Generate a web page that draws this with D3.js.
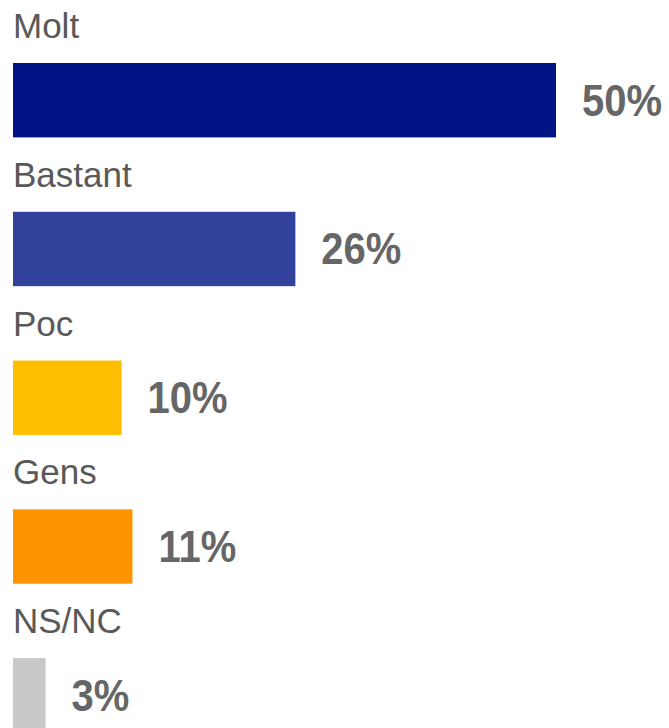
<!DOCTYPE html>
<html>
<head>
<meta charset="utf-8">
<script src="https://cdn.jsdelivr.net/npm/d3@7"></script>
<style>
  html, body { margin: 0; padding: 0; background: #fff; }
  svg { display: block; }
</style>
</head>
<body>
<svg id="chart" width="669" height="728"></svg>
<script>
const categories = ["Molt", "Bastant", "Poc", "Gens", "NS/NC"];
const values = [50, 26, 10, 11, 3];
const valueLabels = ["50%", "26%", "10%", "11%", "3%"];
const colors = ["#001486", "#32419B", "#FFBF00", "#FF9300", "#C8C8C8"];

const svg = d3.select("#chart");
const data = categories.map((c, i) => ({ cat: c, v: values[i], label: valueLabels[i], color: colors[i] }));

const x = d3.scaleLinear().domain([0, 50]).range([13, 556]);
const y = d3.scaleBand().domain(categories).range([63, 732.5]).paddingInner(0.5).paddingOuter(0);

const g = svg.append("g");

g.selectAll("rect.bar").data(data).join("rect")
  .attr("class", "bar")
  .attr("x", x(0))
  .attr("y", d => y(d.cat))
  .attr("width", d => x(d.v) - x(0))
  .attr("height", y.bandwidth())
  .attr("fill", d => d.color);

g.selectAll("text.cat").data(data).join("text")
  .attr("class", "cat")
  .attr("x", x(0))
  .attr("y", d => y(d.cat) - 25)
  .attr("font-family", "Liberation Sans, Arial, sans-serif")
  .attr("font-size", 35)
  .attr("fill", "#595959")
  .text(d => d.cat);

g.selectAll("text.val").data(data).join("text")
  .attr("class", "val")
  .attr("transform", d => `translate(${x(d.v) + 26},${y(d.cat) + y.bandwidth() / 2 + 15.5}) scale(1,1.09)`)
  .attr("font-family", "Liberation Sans, Arial, sans-serif")
  .attr("font-size", 40)
  .attr("font-weight", "bold")
  .attr("fill", "#666666")
  .text(d => d.label);
</script>
</body>
</html>
